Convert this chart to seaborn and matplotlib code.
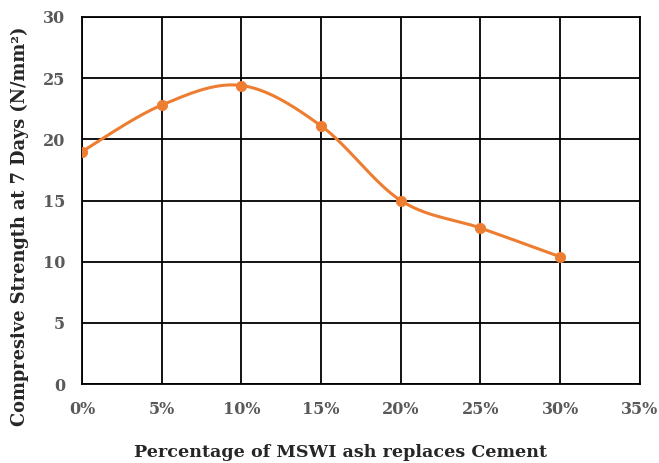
import numpy as np
import pandas as pd
import seaborn as sns
import matplotlib.pyplot as plt

# data
replacement = [0, 5, 10, 15, 20, 25, 30]
strength = [19.0, 22.8, 24.4, 21.1, 15.0, 12.75, 10.4]
x_ticks = [0, 5, 10, 15, 20, 25, 30, 35]
y_ticks = [0, 5, 10, 15, 20, 25, 30]

df = pd.DataFrame({"pct": replacement, "strength": strength})


# excel-style smoothed line (catmull-rom bezier through the points)
def smooth(x, y, n=40):
    x = np.asarray(x, float)
    y = np.asarray(y, float)
    px = np.concatenate([[x[0]], x, [x[-1]]])
    py = np.concatenate([[y[0]], y, [y[-1]]])
    xs, ys = [], []
    t = np.linspace(0, 1, n)
    for i in range(1, len(px) - 2):
        p0 = np.array([px[i], py[i]])
        p3 = np.array([px[i + 1], py[i + 1]])
        c1 = p0 + (np.array([px[i + 1], py[i + 1]]) - np.array([px[i - 1], py[i - 1]])) / 6
        c2 = p3 - (np.array([px[i + 2], py[i + 2]]) - np.array([px[i], py[i]])) / 6
        pts = ((1 - t) ** 3)[:, None] * p0 + (3 * (1 - t) ** 2 * t)[:, None] * c1 \
            + (3 * (1 - t) * t ** 2)[:, None] * c2 + (t ** 3)[:, None] * p3
        xs.extend(pts[:, 0])
        ys.extend(pts[:, 1])
    return pd.DataFrame({"pct": xs, "strength": ys})


curve = smooth(replacement, strength)

sns.set_style("white")
plt.rcParams["font.family"] = ["DejaVu Serif"]

fig = plt.figure(figsize=(6.59, 4.63), dpi=100)
ax = fig.add_axes([0.1244, 0.1706, 0.8466, 0.7927])

orange = "#ED7D31"
sns.lineplot(data=curve, x="pct", y="strength", color=orange, lw=2.2, sort=False, ax=ax)
sns.scatterplot(data=df, x="pct", y="strength", color=orange, s=55, edgecolor=orange, zorder=5, ax=ax)

ax.set_xlim(0, 35)
ax.set_ylim(0, 30)
ax.set_xticks(x_ticks)
ax.set_yticks(y_ticks)
ax.set_xticklabels([f"{v}%" for v in x_ticks])
ax.grid(True, color="black", lw=1.3)
ax.set_axisbelow(True)
for s in ax.spines.values():
    s.set_color("black")
    s.set_linewidth(1.3)

ax.tick_params(axis="both", length=0, labelsize=11.5, labelcolor="#595959", pad=12)
for lab in ax.get_xticklabels() + ax.get_yticklabels():
    lab.set_fontweight("bold")

ax.set_xlabel("Percentage of MSWI ash replaces Cement", fontsize=12.6, fontweight="bold")
ax.set_ylabel("Compresive Strength at 7 Days (N/mm\u00b2)", fontsize=12.8, fontweight="bold")
ax.xaxis.set_label_coords(0.464, -0.163)
ax.yaxis.set_label_coords(-0.095, 0.43)

fig.savefig("out.png", dpi=100)
